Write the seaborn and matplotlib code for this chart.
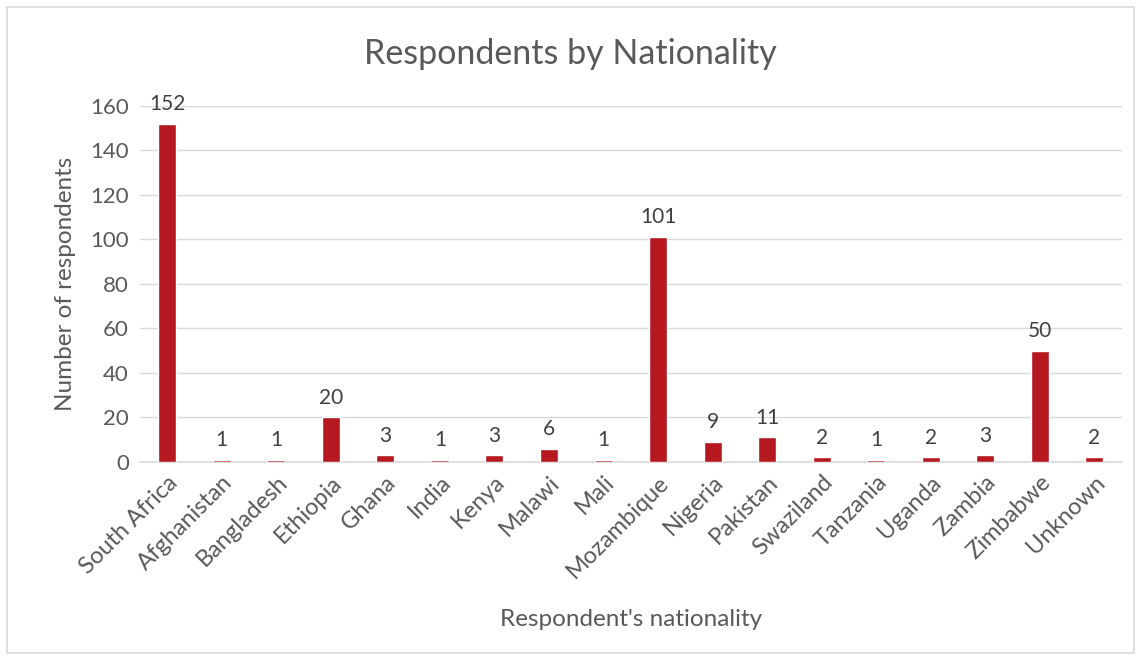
import matplotlib
matplotlib.use('Agg')
import matplotlib.pyplot as plt
import seaborn as sns
import pandas as pd

countries = ['South Africa', 'Afghanistan', 'Bangladesh', 'Ethiopia', 'Ghana', 'India',
             'Kenya', 'Malawi', 'Mali', 'Mozambique', 'Nigeria', 'Pakistan', 'Swaziland',
             'Tanzania', 'Uganda', 'Zambia', 'Zimbabwe', 'Unknown']
respondents = [152, 1, 1, 20, 3, 1, 3, 6, 1, 101, 9, 11, 2, 1, 2, 3, 50, 2]

BAR_COLOR = '#B5191F'
TEXT_COLOR = '#595959'
GRID_COLOR = '#D9D9D9'

sns.set_style('white')
plt.rcParams['font.family'] = ['Lato', 'DejaVu Sans']

df = pd.DataFrame({'country': countries, 'count': respondents})

fig = plt.figure(figsize=(11.41, 6.58), dpi=100)
ax = fig.add_axes([0.1227, 0.298, 0.8603, 0.541])

sns.barplot(data=df, x='country', y='count', color=BAR_COLOR, width=0.33,
            saturation=1, ax=ax, zorder=3)

for cont in ax.containers:
    ax.bar_label(cont, fmt='%d', padding=7, fontsize=15, color='#404040')

ax.set_ylim(0, 160)
ax.set_yticks(range(0, 161, 20))
ax.set_xlim(-0.5, len(countries) - 0.5)
ax.yaxis.grid(True, color=GRID_COLOR, linewidth=1, zorder=0)
ax.set_axisbelow(True)
for side in ['top', 'right', 'left']:
    ax.spines[side].set_visible(False)
ax.spines['bottom'].set_color(GRID_COLOR)
ax.spines['bottom'].set_linewidth(1.2)
ax.tick_params(axis='y', length=0, labelsize=16, colors=TEXT_COLOR, pad=8)
ax.tick_params(axis='x', length=0, labelsize=17, colors=TEXT_COLOR, pad=7)
plt.setp(ax.get_xticklabels(), rotation=45, ha='right', rotation_mode='anchor')

ax.set_xlabel("Respondent's nationality", fontsize=17.5, color=TEXT_COLOR, labelpad=20)
ax.set_ylabel('Number of respondents', fontsize=17.5, color=TEXT_COLOR, labelpad=10)
fig.text(0.5, 0.918, 'Respondents by Nationality', ha='center', va='center',
         fontsize=24.5, color=TEXT_COLOR)

border = plt.Rectangle((0.006, 0.008), 0.988, 0.982, transform=fig.transFigure,
                       fill=False, edgecolor=GRID_COLOR, linewidth=1.2)
fig.patches.append(border)

fig.savefig('out.png', dpi=100)
